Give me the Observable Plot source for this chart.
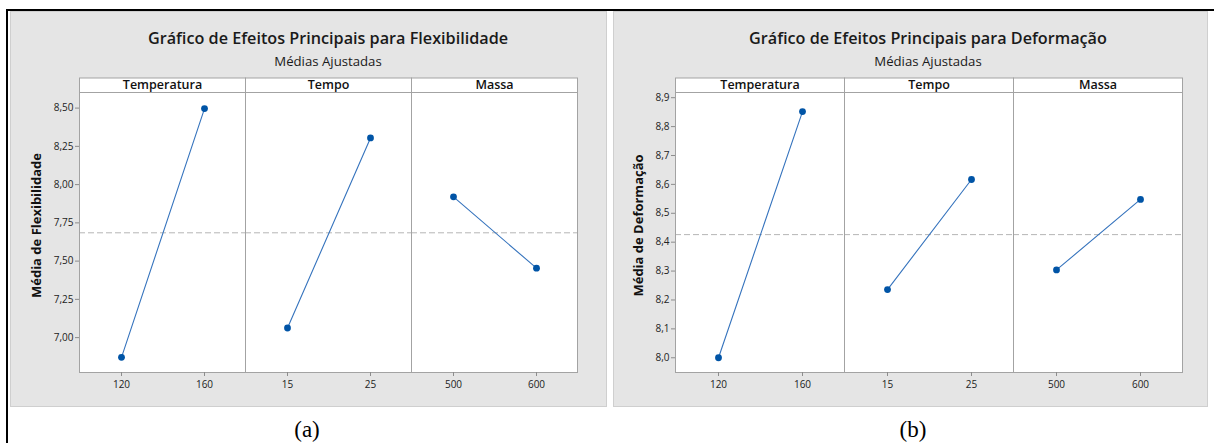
<!DOCTYPE html>
<html>
<head>
<meta charset="utf-8">
<script src="https://cdn.jsdelivr.net/npm/d3@7"></script>
<script src="https://cdn.jsdelivr.net/npm/@observablehq/plot@0.6"></script>
<style>
  body { margin: 0; background: #fff; }
  #page { position: relative; width: 1214px; height: 443px; overflow: hidden; font-family: "Open Sans", sans-serif; }
  .rule { position: absolute; background: #000; }
  .panel { position: absolute; top: 11px; height: 396px; background: #e5e5e5; box-shadow: inset 0 0 0 1px #cfcfcf; }
  .title { position: absolute; text-align: center; font-size: 16.2px; font-weight: 600; color: #1a1a1a; line-height: 18px; white-space: nowrap; }
  .subtitle { position: absolute; text-align: center; font-size: 13.2px; color: #1a1a1a; line-height: 16px; white-space: nowrap; }
  .chart { position: absolute; top: 59px; left: 0; }
  .caption { position: absolute; top: 416px; width: 60px; text-align: center; font-family: "Liberation Serif", serif; font-size: 23px; line-height: 28px; color: #000; }
</style>
</head>
<body>
<div id="page">
  <div class="rule" style="left:6px; top:9px; width:1208px; height:2px;"></div>
  <div class="rule" style="left:6px; top:9px; width:2px; height:434px;"></div>
  <div class="panel" id="pa" style="left:10px; width:597px;"></div>
  <div class="panel" id="pb" style="left:613px; width:595px;"></div>
  <div class="caption" style="left:277px;">(a)</div>
  <div class="caption" style="left:883px;">(b)</div>
</div>
<script>
// ---- data ----
const factors = ["Temperatura", "Tempo", "Massa"];
const levelsLow = ["120", "15", "500"];
const levelsHigh = ["160", "25", "600"];

const flexLow = [6.871, 7.063, 7.920];
const flexHigh = [8.497, 8.305, 7.454];
const flexTicks = [7.00, 7.25, 7.50, 7.75, 8.00, 8.25, 8.50];
const flexDomain = [6.772, 8.602];

const defLow = [8.000, 8.236, 8.304];
const defHigh = [8.852, 8.617, 8.548];
const defTicks = [8.0, 8.1, 8.2, 8.3, 8.4, 8.5, 8.6, 8.7, 8.8, 8.9];
const defDomain = [7.949, 8.918];

function buildRows(low, high) {
  const rows = [];
  factors.forEach((f, i) => {
    rows.push({factor: f, level: "low", label: levelsLow[i], value: low[i]});
    rows.push({factor: f, level: "high", label: levelsHigh[i], value: high[i]});
  });
  return rows;
}

function makeChart(panelId, cfg) {
  const panel = document.getElementById(panelId);
  const W = cfg.width, H = 337;
  const mT = 22, mB = 35, mL = cfg.marginLeft, mR = cfg.marginRight;
  const facetH = H - mT - mB;
  const stripH = 14.5;
  const rows = buildRows(cfg.low, cfg.high);
  const mean = d3.mean(rows, d => d.value);
  const fmt = v => d3.format(cfg.fmt)(v).replace(".", ",");
  const grey = "#a3a3a3";

  const title = document.createElement("div");
  title.className = "title";
  title.style.left = mL + "px";
  title.style.width = (W - mL - mR) + "px";
  title.style.top = "18px";
  title.textContent = cfg.title;
  panel.appendChild(title);

  const sub = document.createElement("div");
  sub.className = "subtitle";
  sub.style.left = mL + "px";
  sub.style.width = (W - mL - mR) + "px";
  sub.style.top = "42px";
  sub.textContent = "Médias Ajustadas";
  panel.appendChild(sub);

  const chart = Plot.plot({
    width: W, height: H,
    marginTop: mT, marginBottom: mB, marginLeft: mL, marginRight: mR,
    style: {background: "transparent", fontFamily: "Open Sans", fontSize: "10px", color: "#222", overflow: "visible"},
    fx: {domain: factors, padding: 0, axis: null},
    x: {type: "point", domain: ["low", "high"], padding: 0.5, axis: null},
    y: {domain: cfg.domain},
    marks: [
      Plot.frame({fill: "white"}),
      Plot.frame({fill: "white", stroke: grey, insetTop: -stripH, insetBottom: facetH}),
      Plot.text(factors, {fx: d => d, text: d => d, frameAnchor: "top", lineAnchor: "middle", dy: -stripH / 2 - 0.5, fontWeight: 600, fontSize: 12.5, fill: "#111"}),
      Plot.ruleY([mean], {stroke: "#b5b5b5", strokeDasharray: "6,3"}),
      Plot.line(rows, {fx: "factor", x: "level", y: "value", stroke: "#3573bd", strokeWidth: 1.1}),
      Plot.dot(rows, {fx: "factor", x: "level", y: "value", r: 3.4, fill: "#0054a6", stroke: "none"}),
      Plot.frame({stroke: grey}),
      Plot.ruleX(rows, {fx: "factor", x: "level", insetTop: facetH, insetBottom: -4, stroke: "#8c8c8c"}),
      Plot.text(rows, {fx: "factor", x: "level", text: "label", frameAnchor: "bottom", lineAnchor: "middle", dy: 12, fill: "#222"}),
      Plot.axisY({ticks: cfg.ticks, tickFormat: fmt, tickSize: 4, tickPadding: 2, label: null, stroke: "#8c8c8c", fill: "#222"}),
      Plot.text([cfg.ylabel], {fx: () => factors[0], text: d => d, frameAnchor: "left", textAnchor: "middle", lineAnchor: "middle", rotate: -90, dx: -cfg.labelOffset, dy: -7, fontWeight: "bold", fontSize: 13, fill: "#111"})
    ]
  });
  chart.classList.add("chart");
  panel.appendChild(chart);
}

makeChart("pa", {
  width: 597, marginLeft: 68, marginRight: 29,
  title: "Gráfico de Efeitos Principais para Flexibilidade",
  ylabel: "Média de Flexibilidade", labelOffset: 43,
  low: flexLow, high: flexHigh, ticks: flexTicks, domain: flexDomain, fmt: ".2f"
});
makeChart("pb", {
  width: 595, marginLeft: 61, marginRight: 26,
  title: "Gráfico de Efeitos Principais para Deformação",
  ylabel: "Média de Deformação", labelOffset: 37,
  low: defLow, high: defHigh, ticks: defTicks, domain: defDomain, fmt: ".1f"
});
</script>
</body>
</html>
